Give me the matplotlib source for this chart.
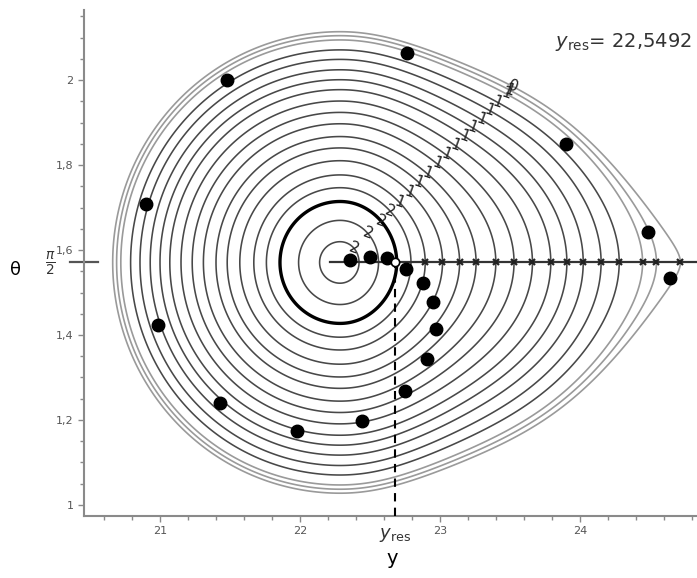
import numpy as np
import matplotlib
matplotlib.use("Agg")
import matplotlib.pyplot as plt

HALF_PI = np.pi / 2

# level curves, outer -> inner: where each one cuts theta = pi/2 (left and right)
left_cross = [20.662, 20.69, 20.72, 20.79, 20.857, 20.93, 21.0, 21.07, 21.15, 21.23,
              21.31, 21.4, 21.48, 21.57, 21.67, 21.76, 21.857, 21.99, 22.14]
right_cross = [24.66, 24.54, 24.41, 24.29, 24.16, 24.03, 23.91, 23.78, 23.66, 23.52,
               23.40, 23.27, 23.14, 23.02, 22.89, 22.79, 22.69, 22.56, 22.43]
curve_labels = ["0"] + ["1"] * 14 + ["2"] * 4
thick_curve = 16
grey_curves = [0, 1, 2]
cross_curves = list(range(0, 15))

y_centre = 22.286     # centre of the closed curves
y_saddle = 24.80      # cusp on the right
sep_left = 20.659     # separatrix on the left
cusp_bend = 1.3       # how sharp the cusp is
theta_scale = 425 / 140 * 0.985

# markers
dots_y = [21.479, 22.764, 23.90, 24.486, 24.643, 20.90, 20.986, 21.43, 21.98, 22.44,
          22.75, 22.91, 22.97, 22.95, 22.88, 22.76, 22.62, 22.50, 22.36]
dots_t = [2.000, 2.064, 1.849, 1.642, 1.534, 1.708, 1.424, 1.240, 1.174, 1.198,
          1.268, 1.344, 1.414, 1.478, 1.522, 1.555, 1.581, 1.584, 1.576]
y_line = 22.68
y_res_text = "22,5492"

# potential along theta = pi/2: circles on the left, fitted on the right
levels = (y_centre - np.array(left_cross)) ** 2
u_r = np.array(right_cross) - y_centre
s = y_saddle - y_centre
v_s = (y_centre - sep_left) ** 2
powers = np.arange(2, 8)
w = 100.0
A = np.vstack([u_r[:, None] ** powers,
               w * s ** powers,
               w * powers * s ** (powers - 1),
               w * powers * (powers - 1) * s ** (powers - 2)])
b = np.concatenate([levels, [w * v_s, 0.0, -2 * w * cusp_bend]])
coef = np.linalg.lstsq(A, b, rcond=None)[0]


def potential(u):
    right = sum(c * u ** p for c, p in zip(coef, powers))
    return np.where(u < 0, u ** 2, right)


def energy(y, t):
    return potential(y - y_centre) + (theta_scale * (t - HALF_PI)) ** 2


yy = np.linspace(20.40, y_saddle, 1100)
tt = np.linspace(0.95, 2.2, 800)
Y, T = np.meshgrid(yy, tt)
H = energy(Y, T)

u_fine = np.linspace(0, s, 6000)
v_fine = np.maximum.accumulate(potential(u_fine))
right_model = y_centre + np.interp(levels, v_fine, u_fine)

fig = plt.figure(figsize=(6.97, 5.78), dpi=100)
ax = fig.add_axes([84 / 697, 1 - 516 / 578, 613 / 697, 506 / 578])
ax.set_xlim(20.457, 24.836)
ax.set_ylim(0.974, 2.165)

for i, e in enumerate(levels):
    if i == thick_curve:
        c, lw = "black", 2.4
    elif i in grey_curves:
        c, lw = "#9a9a9a", 1.2
    else:
        c, lw = "#484848", 1.15
    ax.contour(Y, T, H, levels=[e], colors=[c], linewidths=lw)

# line theta = pi/2 and crossings
ax.plot([y_centre - 0.07, 24.9], [HALF_PI, HALF_PI], color="#333333", lw=1.6, zorder=3)
ax.plot([20.357, 20.557], [HALF_PI, HALF_PI], color="#555555", lw=1.6, clip_on=False)
cy = right_model[cross_curves]
ax.plot(cy, [HALF_PI] * len(cy), "x", color="#222222", ms=4.5, mew=1.6, zorder=4)
ax.plot([y_line, y_line], [0.974, HALF_PI], color="black", lw=1.5,
        linestyle=(0, (4, 3)), zorder=3)
ax.plot(dots_y, dots_t, "o", color="black", ms=9, zorder=5)
ax.plot([y_line], [HALF_PI], "o", mfc="white", mec="black", ms=6, mew=1.2, zorder=6)

# labels along a 45 degree (on screen) ray from the centre
t_ray = np.linspace(0, 2.4, 4000)
ray_y = y_centre + t_ray * 0.7071
ray_t = HALF_PI + t_ray * 0.7071 / theta_scale
ray_h = np.maximum.accumulate(energy(ray_y, ray_t))
for e, lab in zip(levels, curve_labels):
    tp = np.interp(e, ray_h, t_ray)
    ax.text(y_centre + tp * 0.7071, HALF_PI + tp * 0.7071 / theta_scale, lab,
            fontsize=11, rotation=-20, ha="center", va="center", color="#222222", zorder=7)

for side in ["top", "right"]:
    ax.spines[side].set_visible(False)
for side in ["left", "bottom"]:
    ax.spines[side].set_color("#8a8a8a")
    ax.spines[side].set_linewidth(1.5)

ax.set_xticks([21, 22, 23, 24])
ax.set_xticks(np.arange(20.6, 24.85, 0.2), minor=True)
ax.set_yticks([1, 1.2, 1.4, 1.6, 1.8, 2])
ax.set_yticklabels(["1", "1,2", "1,4", "1,6", "1,8", "2"])
ax.set_yticks(np.arange(1.0, 2.16, 0.05), minor=True)
ax.tick_params(which="both", direction="out", color="#8a8a8a", labelcolor="#555555",
               labelsize=8, width=1)
ax.tick_params(which="major", length=4)
ax.tick_params(which="minor", length=3)

fig.text(15 / 697, 1 - 270 / 578, "θ", fontsize=13, ha="center", va="center")
fig.text(50 / 697, 1 - 264 / 578, r"$\frac{\pi}{2}$", fontsize=14, ha="center", va="center",
         color="#333333")
fig.text(555 / 697, 1 - 42 / 578, r"$y_{\rm res}$= " + y_res_text, fontsize=14,
         ha="left", va="center", color="#333333")
fig.text(395 / 697, 1 - 535 / 578, r"$y_{\rm res}$", fontsize=13, ha="center", va="center",
         color="#333333")
fig.text(392 / 697, 1 - 558 / 578, "y", fontsize=14, ha="center", va="center")

fig.savefig("out.png", dpi=100)
